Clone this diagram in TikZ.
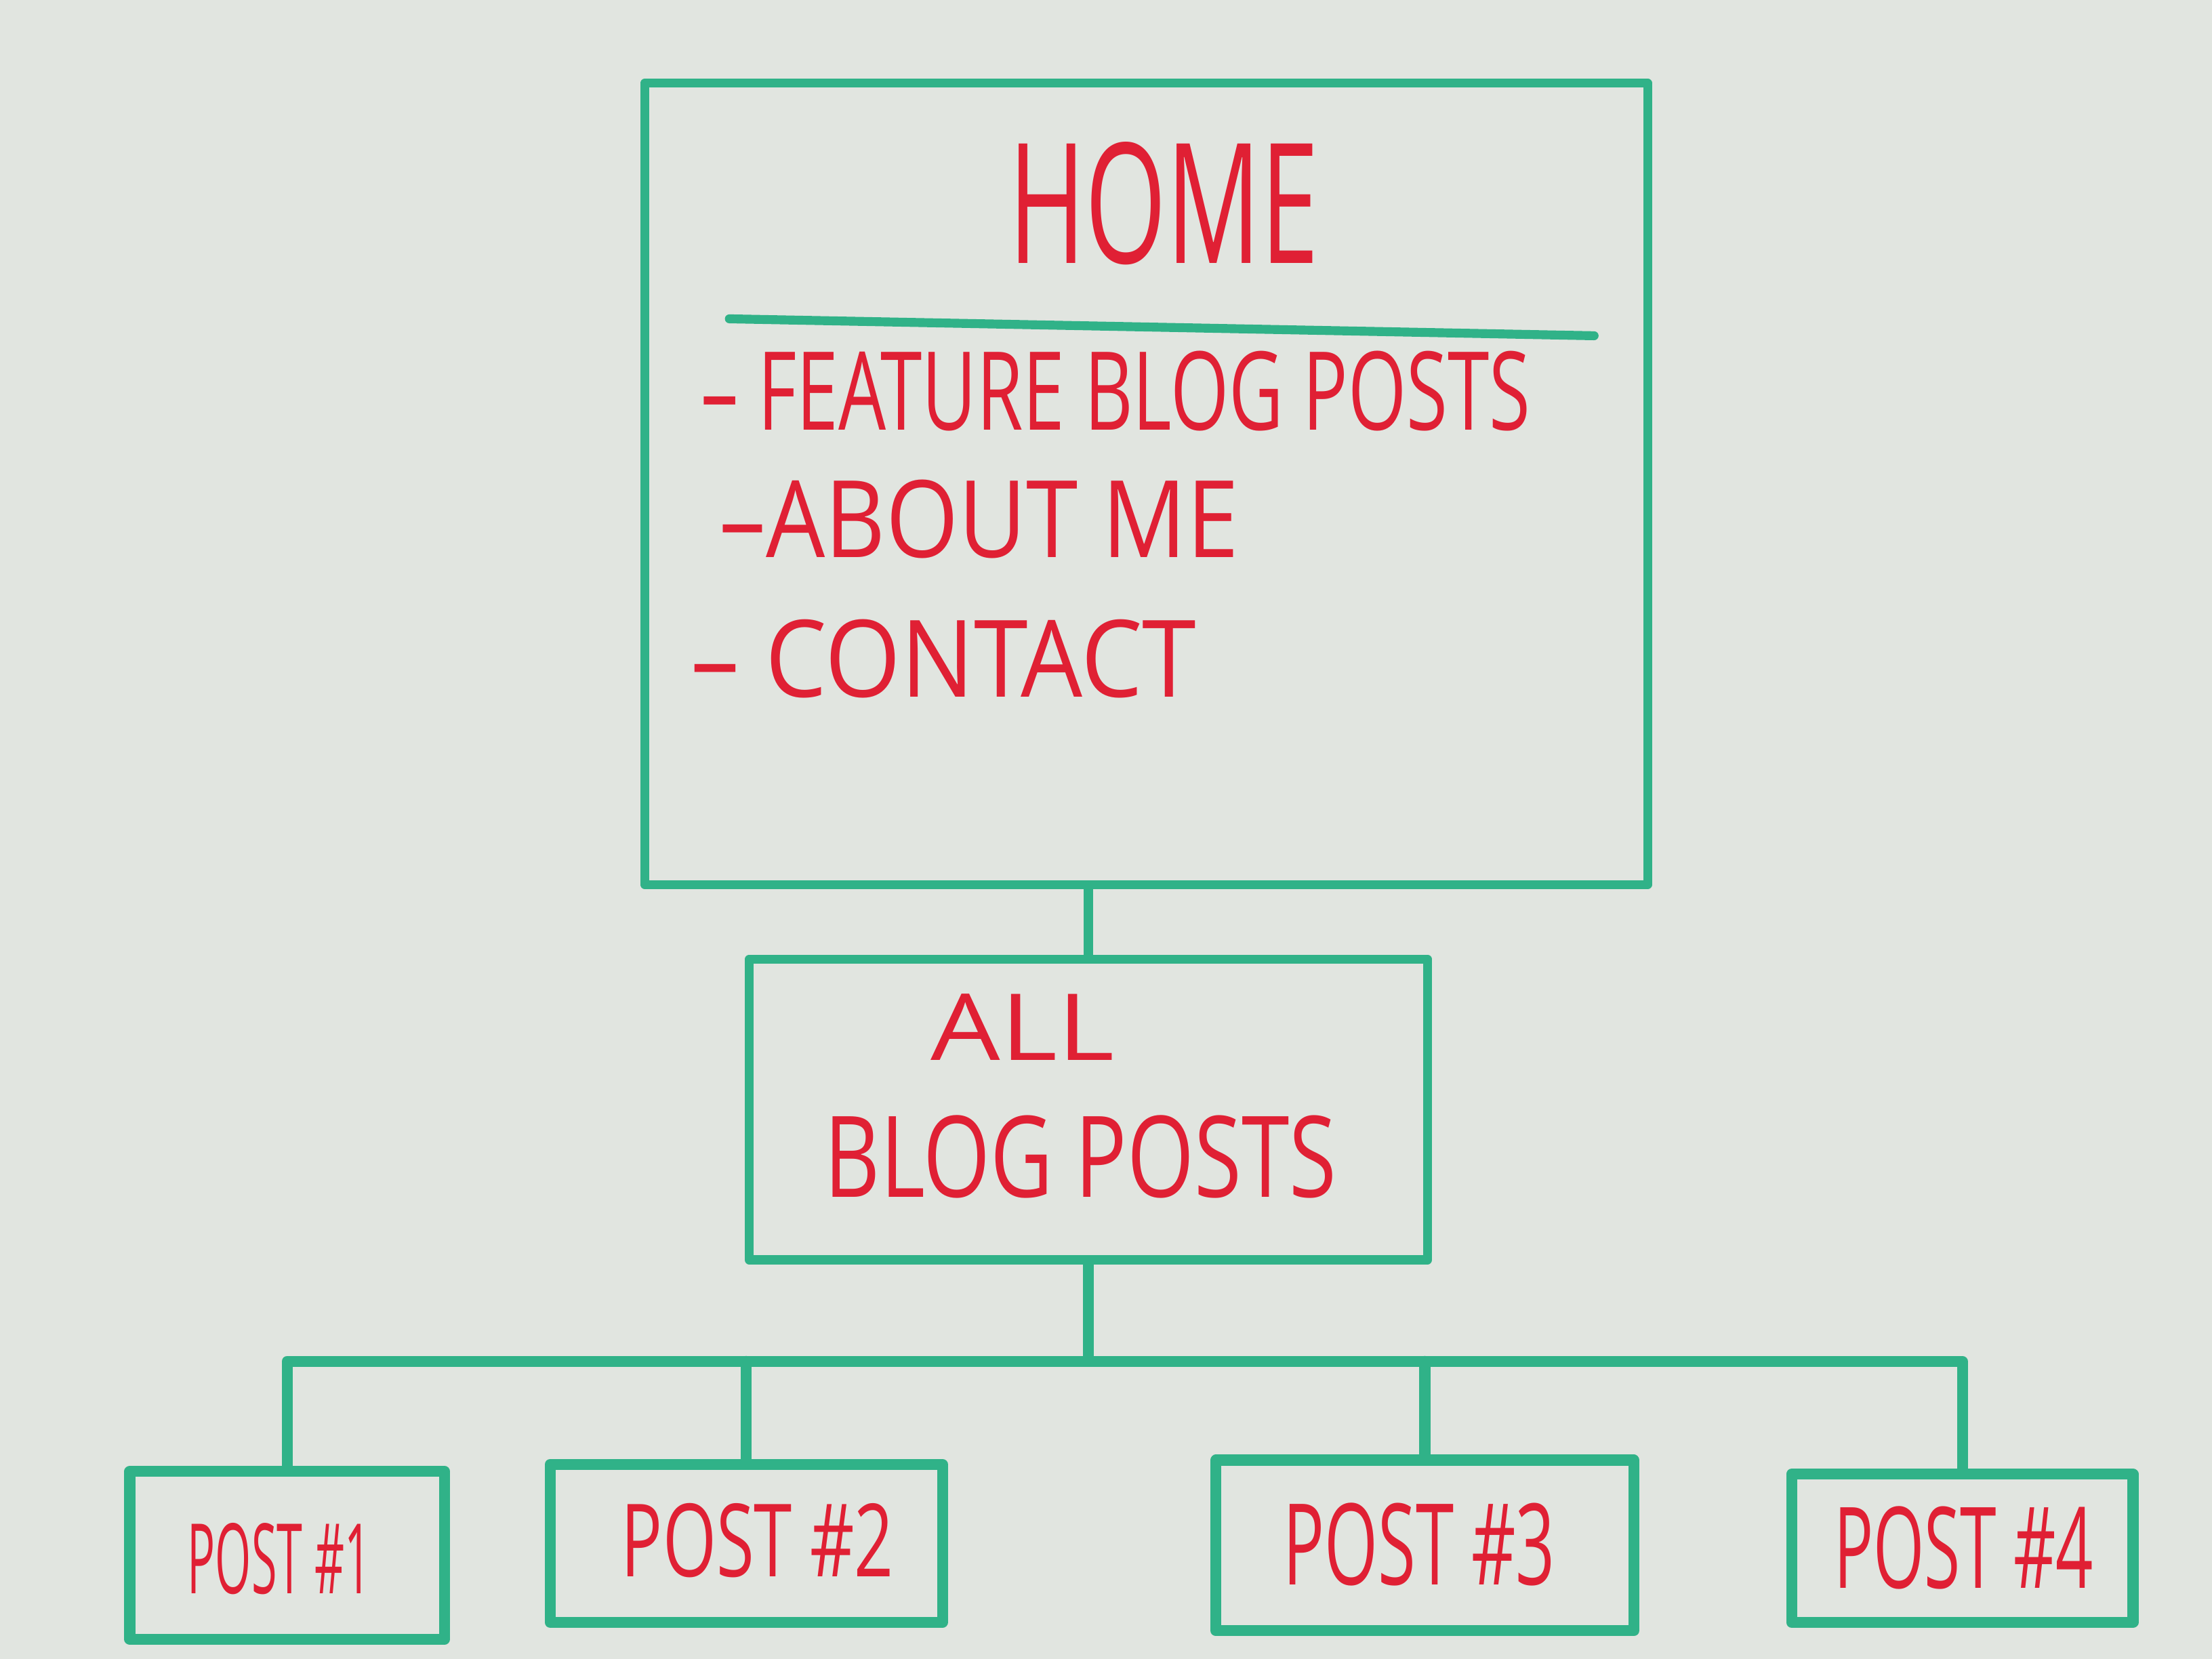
\documentclass[tikz,border=0pt]{standalone}
\usepackage{fontspec}
\setmainfont{Open Sans}
\usepackage{graphicx}
\usetikzlibrary{fit}

\definecolor{board}{RGB}{225,229,224}
\definecolor{marker}{RGB}{48,178,136}
\definecolor{ink}{RGB}{224,32,52}

% one drawing unit = 0.02cm; labels are stretched to a given width and height
\newlength\upx
\setlength\upx{0.02cm}
\newcommand\inked[3]{\resizebox{#1\upx}{#2\upx}{#3}}

\begin{document}
\begin{tikzpicture}[x=0.02cm,y=-0.02cm,
  pen/.style={draw=marker,line width=3.6pt,line cap=round,line join=round},
  thickpen/.style={pen,line width=4.4pt},
  box/.style={pen,rectangle,inner sep=0pt},
  smallbox/.style={thickpen,rectangle,inner sep=0pt},
  label/.style={text=ink,inner sep=0pt,anchor=center}]

% whiteboard
\fill[board] (0,0) rectangle (1568,1176);
\useasboundingbox (0,0) rectangle (1568,1176);

% home page
\node[box,fit={(457,59) (1168,627)}] (home) {};
\draw[pen] (517,226) -- (1130,238);
\node[label] (hometitle) at (825,144) {\inked{220}{86}{HOME}};
\node[label] (item1) at (791,277) {\inked{588}{56}{– FEATURE BLOG POSTS}};
\node[label] (item2) at (694,368) {\inked{368}{55}{–ABOUT ME}};
\node[label] (item3) at (669,467) {\inked{358}{55}{– CONTACT}};

% blog index
\node[box,fit={(531,680) (1012,893)}] (allposts) {};
\node[label] (all) at (725,728) {\inked{130}{47}{ALL}};
\node[label] (blogposts) at (766,820) {\inked{363}{58}{BLOG POSTS}};

% single posts
\node[smallbox,fit={(92,1043) (315,1162)}] (post1) {};
\node[smallbox,fit={(390,1038) (668,1150)}] (post2) {};
\node[smallbox,fit={(862,1035) (1158,1156)}] (post3) {};
\node[smallbox,fit={(1270,1045) (1512,1150)}] (post4) {};
\node[label] (post1text) at (198,1105) {\inked{130}{50}{POST \#1}};
\node[label] (post2text) at (537,1092) {\inked{193}{52}{POST \#2}};
\node[label] (post3text) at (1006,1095) {\inked{193}{58}{POST \#3}};
\node[label] (post4text) at (1392,1097) {\inked{184}{58}{POST \#4}};

% connectors
\coordinate (bus) at (0,965);
\draw[pen] (home.south -| allposts.north) -- (allposts.north);
\draw[thickpen] (allposts.south) -- (allposts.south |- bus);
\draw[thickpen] (post1.north) -- (post1.north |- bus) -- (post4.north |- bus) -- (post4.north);
\draw[thickpen] (post2.north) -- (post2.north |- bus);
\draw[thickpen] (post3.north) -- (post3.north |- bus);
\end{tikzpicture}
\end{document}
